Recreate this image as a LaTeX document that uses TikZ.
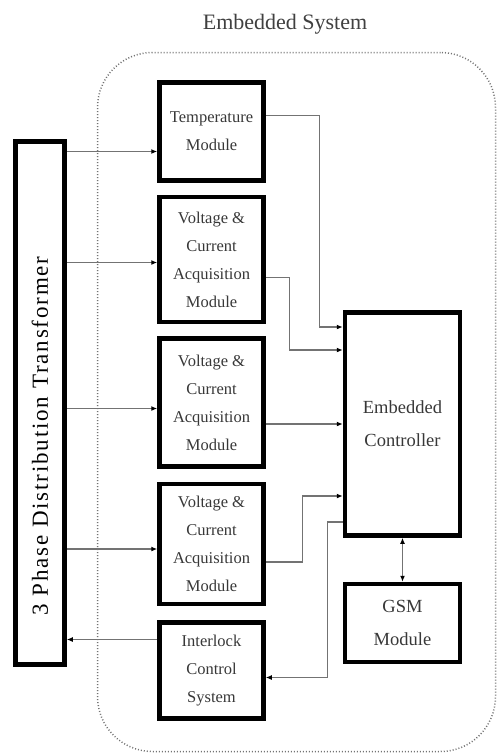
\documentclass[tikz,border=0pt]{standalone}
\usepackage{fontspec}
\setmainfont{Liberation Serif}
\usetikzlibrary{arrows.meta,positioning}

\begin{document}
\begin{tikzpicture}[x=1pt,y=-1pt,>={Latex[length=6pt,width=5pt,color=black]},node distance=12pt,
 modbox/.style={draw,line width=4.5pt,minimum width=104pt,align=center,text=black!78,font=\fontsize{16.5}{28}\selectfont},
 ctlbox/.style={draw,line width=4.5pt,minimum width=115pt,align=center,text=black!78,font=\fontsize{18.5}{33}\selectfont},
 conn/.style={draw=black!55,line width=1.2pt,->}]
\useasboundingbox (0,0) rectangle (499,756);
\node[draw=black!55,line width=1.5pt,dash pattern=on 1pt off 2pt,rounded corners=55pt,minimum width=398pt,minimum height=699pt] (sys) at (296.5,402) {};
\node[font=\fontsize{22}{22}\selectfont,text=black!75] (title) at (285,24) {Embedded System};
\node[draw,line width=4.5pt,minimum width=49pt,minimum height=523pt,inner sep=0pt] (tr) at (40,403)
 {\rotatebox{90}{\fontsize{23}{23}\selectfont\addfontfeature{LetterSpace=8}3 Phase Distribution Transformer\hspace*{66pt}}};
\node[modbox,minimum height=98pt] (temp) at (211.5,131.5) {Temperature\\Module};
\node[modbox,minimum height=125pt,below=of temp] (vc1) {Voltage \&\\Current\\Acquisition\\Module};
\node[modbox,minimum height=128pt,below=of vc1] (vc2) {Voltage \&\\Current\\Acquisition\\Module};
\node[modbox,minimum height=120pt,below=13pt of vc2] (vc3) {Voltage \&\\Current\\Acquisition\\Module};
\node[modbox,minimum height=96pt,below=14pt of vc3] (il) {Interlock\\Control\\System};
\node[ctlbox,minimum height=223pt] (ctrl) at (402.5,424) {Embedded\\Controller};
\node[ctlbox,minimum height=78pt,below=44pt of ctrl] (gsm) {GSM\\Module};
% transformer to modules
\coordinate (temp in) at ([yshift=-20pt]temp.west);
\coordinate (vc1 in) at ([yshift=-3pt]vc1.west);
\coordinate (vc2 in) at ([yshift=-6pt]vc2.west);
\coordinate (vc3 in) at ([yshift=-5pt]vc3.west);
\coordinate (il out) at ([yshift=31pt]il.west);
\draw[conn] (tr.east |- temp in) -- (temp in);
\draw[conn] (tr.east |- vc1 in) -- (vc1 in);
\draw[conn] (tr.east |- vc2 in) -- (vc2 in);
\draw[conn] (tr.east |- vc3 in) -- (vc3 in);
\draw[conn] (il out) -- (il out -| tr.east);
% modules to controller
\draw[conn] ([yshift=16pt]temp.east) -- ++(54,0) |- ([yshift=97pt]ctrl.west);
\draw[conn] ([yshift=-18pt]vc1.east) -- ++(24,0) |- ([yshift=74pt]ctrl.west);
\draw[conn] (vc2.east |- ctrl.west) -- (ctrl.west);
\draw[conn] ([yshift=-18pt]vc3.east) -- ++(37,0) |- ([yshift=-72pt]ctrl.west);
\draw[conn] ([yshift=-98pt]ctrl.west) -- ++(-15,0) |- ([yshift=-7pt]il.east);
\draw[conn,<->] (ctrl.south) -- (ctrl.south |- gsm.north);
\end{tikzpicture}
\end{document}
